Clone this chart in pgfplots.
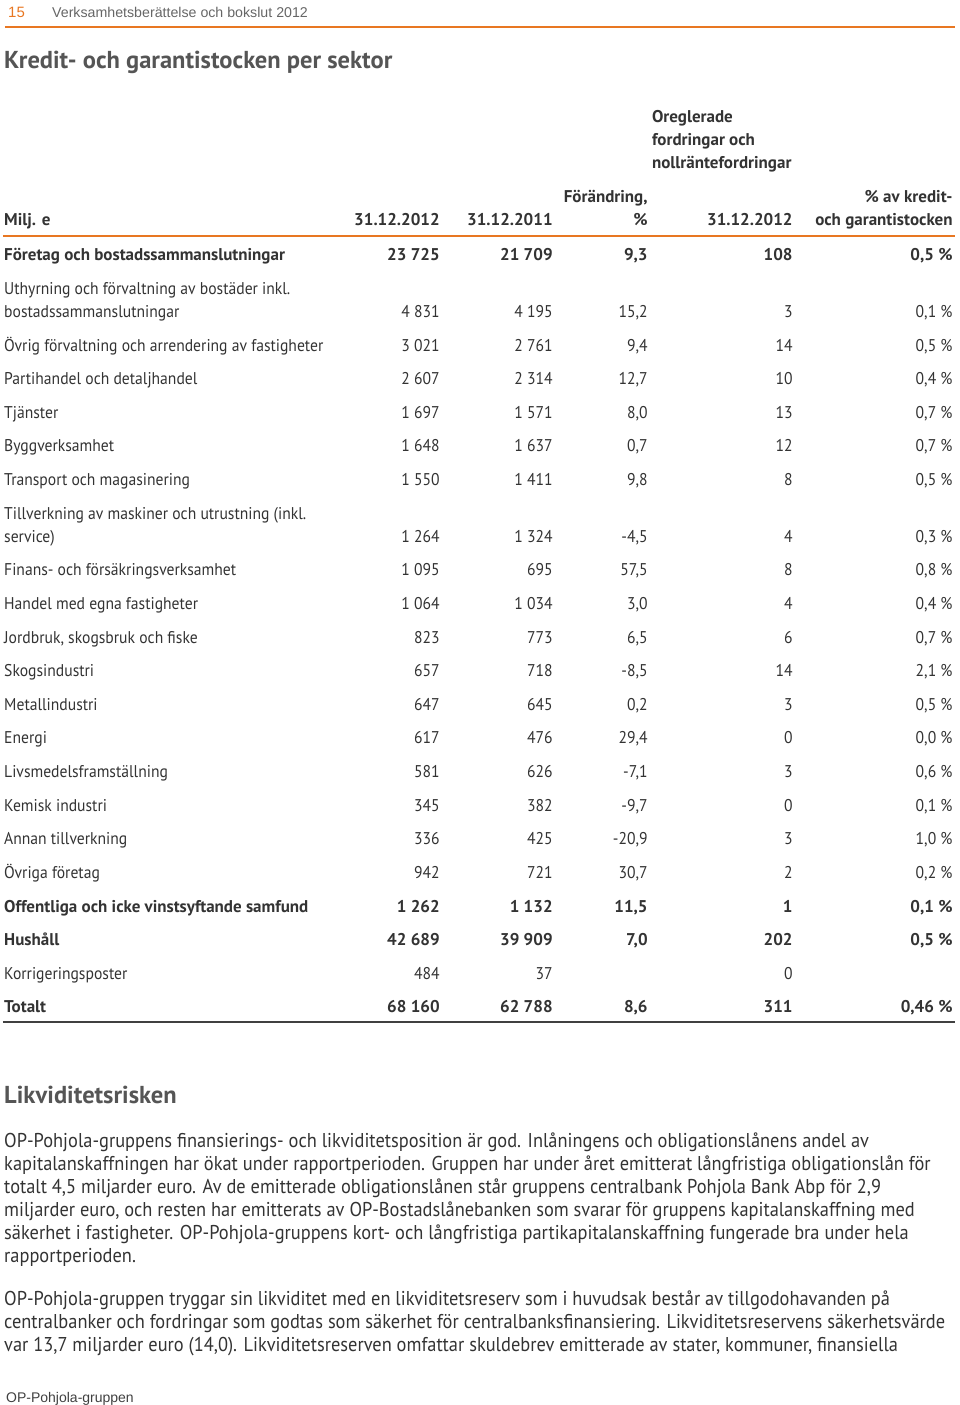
\documentclass[border=0pt]{standalone}
\usepackage{fontspec}
\setmainfont{PT Sans}[FakeStretch=0.92, BoldFeatures={FakeStretch=1.0}]
\newfontfamily\arialf{Liberation Sans}
\usepackage{pgfplots}
\pgfplotsset{compat=1.18}
\usepackage{pgfplotstable}
\definecolor{oporange}{HTML}{E87722}
\definecolor{tabtxt}{HTML}{333333}
\definecolor{ttlgray}{HTML}{555555}
\newcommand\B[1]{\textbf{#1}}
\newcommand\tabfont{\fontsize{17}{20}\selectfont}
\newcommand\parfont{\fontsize{20}{23}\selectfont}

% rows of the table: y position (px from top), label, five columns
\pgfplotstableread[col sep=semicolon]{
y;lab;a;b;c;d;e
254;\B{Företag och bostadssammanslutningar};\B{23 725};\B{21 709};\B{9,3};\B{108};\B{0,5 \%}
288;Uthyrning och förvaltning av bostäder inkl.;;;;;
311;bostadssammanslutningar;4 831;4 195;15,2;3;0,1 \%
345;Övrig förvaltning och arrendering av fastigheter;3 021;2 761;9,4;14;0,5 \%
378;Partihandel och detaljhandel;2 607;2 314;12,7;10;0,4 \%
412;Tjänster;1 697;1 571;8,0;13;0,7 \%
445;Byggverksamhet;1 648;1 637;0,7;12;0,7 \%
479;Transport och magasinering;1 550;1 411;9,8;8;0,5 \%
513;Tillverkning av maskiner och utrustning (inkl.;;;;;
536;service);1 264;1 324;-4,5;4;0,3 \%
569;Finans- och försäkringsverksamhet;1 095;695;57,5;8;0,8 \%
603;Handel med egna fastigheter;1 064;1 034;3,0;4;0,4 \%
637;Jordbruk, skogsbruk och fiske;823;773;6,5;6;0,7 \%
670;Skogsindustri;657;718;-8,5;14;2,1 \%
704;Metallindustri;647;645;0,2;3;0,5 \%
737;Energi;617;476;29,4;0;0,0 \%
771;Livsmedelsframställning;581;626;-7,1;3;0,6 \%
805;Kemisk industri;345;382;-9,7;0;0,1 \%
838;Annan tillverkning;336;425;-20,9;3;1,0 \%
872;Övriga företag;942;721;30,7;2;0,2 \%
906;\B{Offentliga och icke vinstsyftande samfund};\B{1 262};\B{1 132};\B{11,5};\B{1};\B{0,1 \%}
939;\B{Hushåll};\B{42 689};\B{39 909};\B{7,0};\B{202};\B{0,5 \%}
973;Korrigeringsposter;484;37;;0;
1006;\B{Totalt};\B{68 160};\B{62 788};\B{8,6};\B{311};\B{0,46 \%}
}\rows

\pgfplotsset{
  col/.style={draw=none, nodes near coords, point meta=explicit symbolic,
    nodes near coords style={anchor=mid east, inner sep=0pt, yshift=-4pt, text=tabtxt, font=\tabfont}},
}

\begin{document}
\begin{tikzpicture}
\begin{axis}[
  scale only axis, width=960pt, height=1405pt,
  xmin=0, xmax=960, ymin=0, ymax=1405, y dir=reverse,
  axis lines=none, clip=false]
\addplot[draw=none] coordinates {(0,0) (960,1405)};
\begin{scope}[every node/.style={inner sep=0pt, yshift=-4pt}]
% page header
\node[anchor=mid west, text=oporange, font=\arialf\fontsize{15}{17}\selectfont] at (axis cs:8,11) {15};
\node[anchor=mid west, text=black!60, font=\arialf\fontsize{14.2}{17}\selectfont] at (axis cs:52,11) {Verksamhetsberättelse och bokslut 2012};
% title
\node[anchor=mid west, text=ttlgray, font=\bfseries\fontsize{24.5}{28}\selectfont] at (axis cs:4,62) {Kredit- och garantistocken per sektor};
% table header
\begin{scope}[every node/.append style={text=tabtxt, font=\bfseries\tabfont}]
\node[anchor=mid west] at (axis cs:652,116) {Oreglerade};
\node[anchor=mid west] at (axis cs:652,139) {fordringar och};
\node[anchor=mid west] at (axis cs:652,162) {nollräntefordringar};
\node[anchor=mid east] at (axis cs:648,196) {Förändring,};
\node[anchor=mid east] at (axis cs:953,196) {\% av kredit-};
\node[anchor=mid west] at (axis cs:4,219) {Milj. e};
\node[anchor=mid east] at (axis cs:440,219) {31.12.2012};
\node[anchor=mid east] at (axis cs:553,219) {31.12.2011};
\node[anchor=mid east] at (axis cs:648,219) {\%};
\node[anchor=mid east] at (axis cs:793,219) {31.12.2012};
\node[anchor=mid east] at (axis cs:953,219) {och garantistocken};
\end{scope}
% text section
\node[anchor=mid west, text=ttlgray, font=\bfseries\fontsize{24.5}{28}\selectfont] at (axis cs:4,1097) {Likviditetsrisken};
\begin{scope}[every node/.append style={anchor=mid west, text=tabtxt, font=\parfont}]
\node at (axis cs:4,1141) {OP-Pohjola-gruppens finansierings- och likviditetsposition är god. Inlåningens och obligationslånens andel av};
\node at (axis cs:4,1164) {kapitalanskaffningen har ökat under rapportperioden. Gruppen har under året emitterat långfristiga obligationslån för};
\node at (axis cs:4,1187) {totalt 4,5 miljarder euro. Av de emitterade obligationslånen står gruppens centralbank Pohjola Bank Abp för 2,9};
\node at (axis cs:4,1210) {miljarder euro, och resten har emitterats av OP-Bostadslånebanken som svarar för gruppens kapitalanskaffning med};
\node at (axis cs:4,1233) {säkerhet i fastigheter. OP-Pohjola-gruppens kort- och långfristiga partikapitalanskaffning fungerade bra under hela};
\node at (axis cs:4,1256) {rapportperioden.};
\node at (axis cs:4,1299) {OP-Pohjola-gruppen tryggar sin likviditet med en likviditetsreserv som i huvudsak består av tillgodohavanden på};
\node at (axis cs:4,1322) {centralbanker och fordringar som godtas som säkerhet för centralbanksfinansiering. Likviditetsreservens säkerhetsvärde};
\node at (axis cs:4,1345) {var 13,7 miljarder euro (14,0). Likviditetsreserven omfattar skuldebrev emitterade av stater, kommuner, finansiella};
\end{scope}
\node[anchor=mid west, text=black!75, font=\arialf\fontsize{14}{16}\selectfont] at (axis cs:6,1396) {OP-Pohjola-gruppen};
\end{scope}
\addplot[oporange, line width=2pt] coordinates {(5,27) (955,27)};
\addplot[oporange, line width=2pt] coordinates {(3,236) (955,236)};
% table body
\addplot[col, nodes near coords style={anchor=mid west}] table[x expr=4, y=y, meta=lab] {\rows};
\addplot[col] table[x expr=440, y=y, meta=a] {\rows};
\addplot[col] table[x expr=553, y=y, meta=b] {\rows};
\addplot[col] table[x expr=648, y=y, meta=c] {\rows};
\addplot[col] table[x expr=793, y=y, meta=d] {\rows};
\addplot[col] table[x expr=953, y=y, meta=e] {\rows};
\addplot[black!75, line width=2pt] coordinates {(3,1022) (955,1022)};
\end{axis}
\end{tikzpicture}
\end{document}
